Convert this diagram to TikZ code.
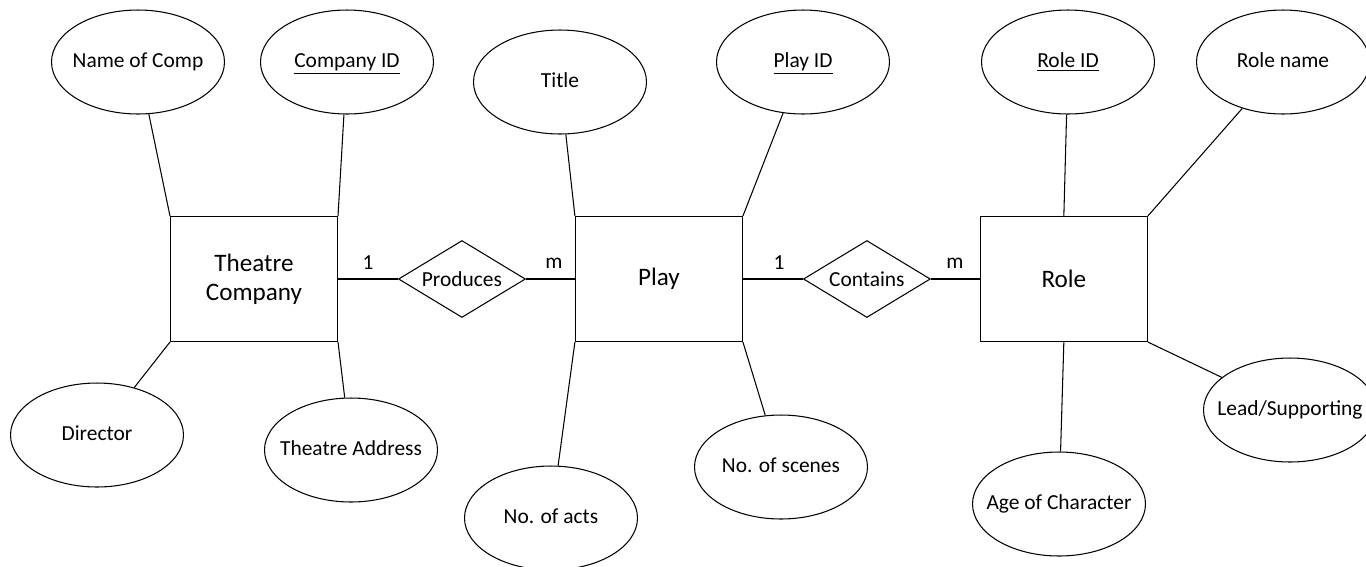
\documentclass[tikz,border=0pt]{standalone}
\usepackage{fontspec}
\setmainfont{Carlito}
\usetikzlibrary{shapes.geometric,positioning}

\begin{document}
\begin{tikzpicture}[%
x=0.02cm, y=-0.02cm,
on grid,
line width=0.6pt,
every node/.style={font=\fontsize{12.2}{14}\selectfont},
entity/.style={draw, rectangle, minimum width=3.34cm, minimum height=2.5cm, font=\fontsize{14.3}{16.5}\selectfont, align=center},
relation/.style={draw, diamond, shape aspect=1.65, minimum width=2.54cm, minimum height=1.54cm, inner sep=0pt},
attrib/.style={draw, ellipse, minimum width=3.46cm, minimum height=2.08cm,
  inner xsep=-0.4cm, inner ysep=0pt, text height=1.55ex, text depth=0.3ex}
]
\useasboundingbox (0,0) rectangle (1366,566);

\node[entity] (tc) at (254,279) {Theatre\\Company};
\node[relation] (prod) [right=4.16cm of tc] {Produces};
\node[entity] (play) [right=3.94cm of prod] {Play};
\node[relation] (cont) [right=4.16cm of play] {Contains};
\node[entity] (role) [right=3.94cm of cont] {Role};

\node[attrib] (name) at (138,62) {Name of Comp};
\node[attrib] (compid) at (347,62) {\underline{Company ID}};
\node[attrib] (director) at (97,435) {Director};
\node[attrib] (address) at (351,450) {Theatre Address};

\node[attrib] (title) at (560,82) {Title};
\node[attrib] (playid) at (803,62) {\underline{Play ID}};
\node[attrib] (acts) at (551,518) {No. of acts};
\node[attrib] (scenes) at (781,467) {No. of scenes};

\node[attrib] (roleid) at (1068,62) {\underline{Role ID}};
\node[attrib] (rolename) at (1283,62) {Role name};
\node[attrib] (age) at (1059,504) {Age of Character};
\node[attrib] (lead) at (1290,410) {Lead/Supporting};

\node (c1) at (368,263) {1};
\node (c2) at (554,263) {m};
\node (c3) at (779,263) {1};
\node (c4) at (955,263) {m};

\draw (tc) -- (prod) -- (play);
\draw (play) -- (cont) -- (role);

\draw (name) -- (tc.north west);
\draw (compid) -- (tc.north east);
\draw (director) -- (tc.south west);
\draw (address) -- (tc.south east);

\draw (title) -- (play.north west);
\draw (playid) -- (play.north east);
\draw (acts) -- (play.south west);
\draw (scenes) -- (play.south east);

\draw (roleid) -- (role.north);
\draw (rolename) -- (role.north east);
\draw (age) -- (role.south);
\draw (lead) -- (role.south east);

\end{tikzpicture}
\end{document}
